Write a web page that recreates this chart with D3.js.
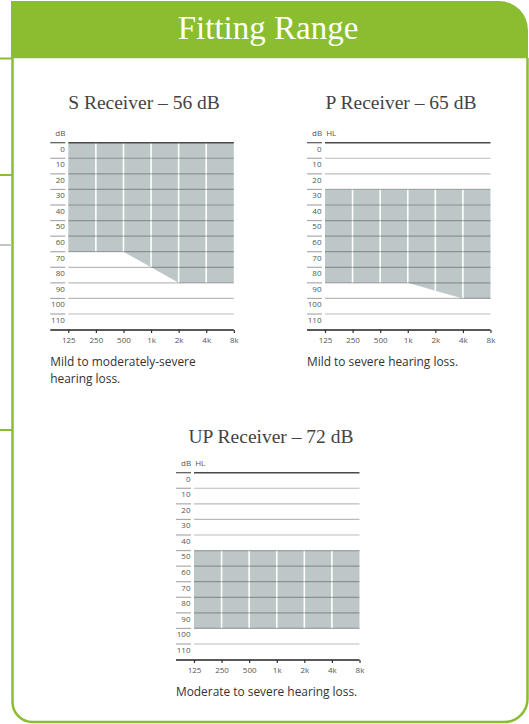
<!DOCTYPE html>
<html>
<head>
<meta charset="utf-8">
<script src="https://cdn.jsdelivr.net/npm/d3@7"></script>
<style>
  html, body { margin: 0; padding: 0; background: #fff; }
  svg { display: block; }
</style>
</head>
<body>
<script>
// Audiogram frequencies (Hz) and their axis labels
const frequencies = [125, 250, 500, 1000, 2000, 4000, 8000];
const frequencyLabels = ["125", "250", "500", "1k", "2k", "4k", "8k"];
// Hearing level ticks (dB HL)
const levelTicks = [0, 10, 20, 30, 40, 50, 60, 70, 80, 90, 100, 110];

// Fitting range per receiver: top and bottom of the shaded band at each frequency
const sReceiverTop    = [0, 0, 0, 0, 0, 0, 0];
const sReceiverBottom = [70, 70, 70, 80, 90, 90, 90];
const pReceiverTop    = [30, 30, 30, 30, 30, 30, 30];
const pReceiverBottom = [90, 90, 90, 90, 95, 100, 100];
const upReceiverTop    = [50, 50, 50, 50, 50, 50, 50];
const upReceiverBottom = [100, 100, 100, 100, 100, 100, 100];

const receivers = [
  { title: "S Receiver – 56 dB", unit: "dB", caption: ["Mild to moderately-severe", "hearing loss."],
    top: sReceiverTop, bottom: sReceiverBottom, x0: 68.3, y0: 142.7, titleX: 144, titleY: 109 },
  { title: "P Receiver – 65 dB", unit: "dB  HL", caption: ["Mild to severe hearing loss."],
    top: pReceiverTop, bottom: pReceiverBottom, x0: 325, y0: 142.7, titleX: 401, titleY: 109 },
  { title: "UP Receiver – 72 dB", unit: "dB  HL", caption: ["Moderate to severe hearing loss."],
    top: upReceiverTop, bottom: upReceiverBottom, x0: 194, y0: 472.7, titleX: 271, titleY: 443 }
];

const W = 529, H = 724;
const green = "#8bbd31";
const svg = d3.select("body").append("svg").attr("width", W).attr("height", H);

// Page frame: green header tab and outline
svg.append("path")
  .attr("d", "M11,58 L11,1 L499,1 A29,29 0 0 1 528,30 L528,58 Z")
  .attr("fill", green);
svg.append("line").attr("x1", 12).attr("x2", 527).attr("y1", 58.5).attr("y2", 58.5)
  .attr("stroke", "#e4eed2").attr("stroke-width", 1);
svg.append("path")
  .attr("d", "M12.5,58 L12.5,702 A20,20 0 0 0 32.5,722 L504,722 A23,23 0 0 0 527.5,699 L527.5,58")
  .attr("fill", "none").attr("stroke", green).attr("stroke-width", 2.5);
[[58.5, green], [175, green], [245, "#c4c4c4"], [430, green]].forEach(([y, c]) => {
  svg.append("line").attr("x1", 0).attr("x2", 12).attr("y1", y).attr("y2", y)
    .attr("stroke", c).attr("stroke-width", 2);
});
svg.append("text").attr("x", 268).attr("y", 39).attr("text-anchor", "middle")
  .attr("font-family", "Liberation Serif").attr("font-size", 33).attr("fill", "#fff")
  .text("Fitting Range");

const plotW = 165.5;
const plotH = 110 * 1.5573;

receivers.forEach(r => {
  const g = svg.append("g");
  const x = d3.scaleLog().base(2).domain([125, 8000]).range([r.x0, r.x0 + plotW]);
  const y = d3.scaleLinear().domain([0, 110]).range([r.y0, r.y0 + plotH]);
  const axisY = r.y0 + plotH + 16;

  // Title
  g.append("text").attr("x", r.titleX).attr("y", r.titleY).attr("text-anchor", "middle")
    .attr("font-family", "Liberation Serif").attr("font-size", 19.5).attr("fill", "#444")
    .text(r.title);

  // Unit label
  g.append("text").attr("x", r.x0 - 13).attr("y", r.y0 - 7)
    .attr("font-family", "Open Sans").attr("font-size", 8).attr("fill", "#555")
    .attr("xml:space", "preserve")
    .text(r.unit);

  // Shaded fitting range
  const band = frequencies.map((f, i) => ({ f, t: r.top[i], b: r.bottom[i] }));
  g.append("path").datum(band)
    .attr("d", d3.area().x(d => x(d.f)).y0(d => y(d.t)).y1(d => y(d.b)))
    .attr("fill", "#bdc7c7");

  // White frequency separators inside the band
  g.selectAll(".sep").data(band.slice(1, -1)).join("line")
    .attr("x1", d => x(d.f)).attr("x2", d => x(d.f))
    .attr("y1", d => y(d.t)).attr("y2", d => y(d.b))
    .attr("stroke", "#fff").attr("stroke-width", 1.6);

  // Horizontal grid lines and left tick marks
  g.selectAll(".grid").data(levelTicks).join("line")
    .attr("x1", r.x0).attr("x2", r.x0 + plotW)
    .attr("y1", d => y(d)).attr("y2", d => y(d))
    .attr("stroke", d => d === 0 ? "#4a4a4a" : "#000")
    .attr("stroke-opacity", d => d === 0 ? 1 : 0.27)
    .attr("stroke-width", d => d === 0 ? 1.4 : 1.2);
  g.selectAll(".ltick").data(levelTicks).join("line")
    .attr("x1", r.x0 - 18).attr("x2", r.x0 - 3)
    .attr("y1", d => y(d)).attr("y2", d => y(d))
    .attr("stroke", d => d === 0 ? "#555" : "#aaa")
    .attr("stroke-width", 1.2);
  g.selectAll(".ylab").data(levelTicks).join("text")
    .attr("x", r.x0 - 3.5).attr("y", d => y(d) + 8.8)
    .attr("text-anchor", "end")
    .attr("font-family", "Open Sans").attr("font-size", 8).attr("fill", "#555")
    .text(d => d);

  // Frequency axis
  const axis = d3.axisBottom(x).tickValues(frequencies)
    .tickFormat((d, i) => frequencyLabels[i]).tickSize(3).tickPadding(4);
  const ag = g.append("g").attr("transform", `translate(0,${axisY})`).call(axis);
  ag.select(".domain").remove();
  ag.append("line").attr("x1", r.x0 - 18).attr("x2", r.x0 + plotW)
    .attr("stroke", "#222").attr("stroke-width", 1.3);
  ag.selectAll(".tick line").attr("stroke", "#333").attr("stroke-width", 1.2);
  ag.selectAll(".tick text").attr("font-family", "Open Sans").attr("font-size", 8)
    .attr("fill", "#555");

  // Caption
  const cap = g.append("text").attr("x", r.x0 - 18).attr("y", axisY + 36)
    .attr("font-family", "Open Sans").attr("font-size", 11.9).attr("fill", "#333");
  r.caption.forEach((line, i) => {
    cap.append("tspan").attr("x", r.x0 - 18).attr("dy", i === 0 ? 0 : 17).text(line);
  });
});
</script>
</body>
</html>
